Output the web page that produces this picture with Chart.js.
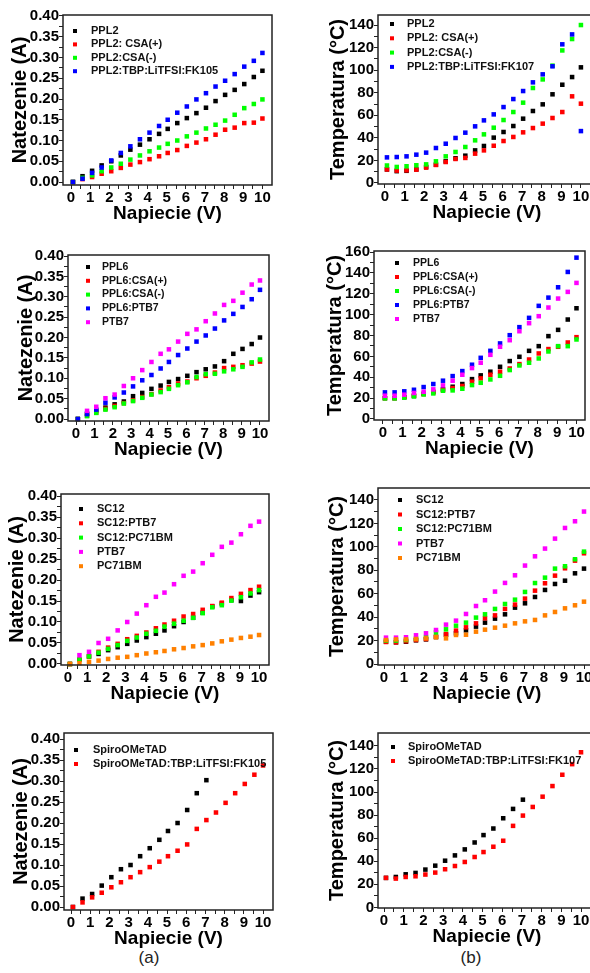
<!DOCTYPE html>
<html>
<head>
<meta charset="utf-8">
<script src="https://cdn.jsdelivr.net/npm/chart.js@4"></script>
<style>
  html, body { margin:0; padding:0; background:#fff; overflow:hidden; }
  body { width:590px; height:973px; position:relative; font-family:"Liberation Sans", Arial, sans-serif; }
  canvas { position:absolute; }
  .tag { position:absolute; font-size:17px; color:#222; transform:translate(-50%,-50%); }
</style>
</head>
<body>
<div class="tag" style="left:149px;top:958px">(a)</div>
<div class="tag" style="left:471px;top:958px">(b)</div>
<script>
// ------ Data ------
const volts = [0.1, 0.6, 1.1, 1.6, 2.1, 2.6, 3.1, 3.6, 4.1, 4.6, 5.05, 5.55, 6.05, 6.55, 7.05, 7.55, 8.05, 8.55, 9.05, 9.55, 10.0];

// tick labels
const xMajor = [0, 1, 2, 3, 4, 5, 6, 7, 8, 9, 10];
const ampTicks = [0, 0.05, 0.10, 0.15, 0.20, 0.25, 0.30, 0.35, 0.40];
const temp140Ticks = [0, 20, 40, 60, 80, 100, 120, 140];
const temp160Ticks = [0, 20, 40, 60, 80, 100, 120, 140, 160];

// (a) row 1 - current, PPL2
const ppl2      = [0, 0.014, 0.027, 0.040, 0.050, 0.064, 0.078, 0.090, 0.103, 0.116, 0.128, 0.142, 0.154, 0.166, 0.179, 0.195, 0.210, 0.222, 0.236, 0.253, 0.268];
const ppl2CsaP  = [0, 0.007, 0.012, 0.020, 0.026, 0.034, 0.042, 0.048, 0.055, 0.062, 0.070, 0.077, 0.087, 0.095, 0.103, 0.114, 0.126, 0.131, 0.142, 0.143, 0.153];
const ppl2CsaM  = [0, 0.010, 0.016, 0.026, 0.035, 0.044, 0.054, 0.064, 0.074, 0.083, 0.092, 0.100, 0.110, 0.119, 0.129, 0.138, 0.148, 0.162, 0.178, 0.188, 0.199];
const ppl2Tbp   = [0, 0.008, 0.022, 0.035, 0.052, 0.070, 0.086, 0.103, 0.119, 0.135, 0.150, 0.167, 0.182, 0.199, 0.214, 0.230, 0.244, 0.260, 0.278, 0.292, 0.311];

// (b) row 1 - temperature, PPL2
const tPpl2     = [12, 10.5, 10.8, 12, 14.2, 16.2, 19.2, 21.9, 24.2, 28.9, 32.8, 40.2, 45.2, 50.5, 57, 63.8, 69.7, 78.6, 87.1, 93.9, 102.5];
const tPpl2CsaP = [12, 11, 11.2, 11.8, 13.6, 16, 18.6, 21.3, 22.2, 26, 28.9, 33, 37.2, 40.8, 44.9, 48.7, 52.6, 57.6, 62.9, 76.8, 70.3];
const tPpl2CsaM = [15.5, 14.2, 14.8, 15.7, 16.5, 19.2, 23.6, 27.5, 31.9, 37.8, 43.1, 49, 55.8, 62.9, 71.2, 84.2, 91.8, 104, 117.5, 127.6, 140];
const tPpl2Tbp  = [22.7, 23, 23.6, 25.1, 26.9, 31, 34.8, 39.9, 44.6, 50.2, 55.5, 60.8, 67.3, 74.4, 81.5, 89.2, 96.3, 103.4, 122.9, 131.7, 46];

// (a) row 2 - current, PPL6
const ppl6      = [0, 0.013, 0.021, 0.028, 0.036, 0.043, 0.056, 0.064, 0.074, 0.082, 0.091, 0.098, 0.106, 0.115, 0.122, 0.129, 0.142, 0.160, 0.172, 0.184, 0.200];
const ppl6CsaP  = [0, 0.008, 0.016, 0.025, 0.032, 0.039, 0.046, 0.054, 0.061, 0.070, 0.078, 0.087, 0.092, 0.100, 0.106, 0.114, 0.125, 0.128, 0.132, 0.136, 0.141];
const ppl6CsaM  = [0, 0.007, 0.015, 0.023, 0.029, 0.038, 0.044, 0.052, 0.060, 0.066, 0.074, 0.083, 0.090, 0.103, 0.110, 0.111, 0.117, 0.122, 0.128, 0.139, 0.146];
const ppl6Ptb7  = [0, 0.012, 0.023, 0.040, 0.053, 0.065, 0.080, 0.095, 0.108, 0.124, 0.140, 0.157, 0.173, 0.190, 0.205, 0.222, 0.242, 0.258, 0.275, 0.294, 0.317];
const ptb7A     = [null, 0.020, 0.030, 0.051, 0.060, 0.081, 0.100, 0.120, 0.140, 0.160, 0.171, 0.190, 0.209, 0.220, 0.240, 0.259, 0.280, 0.290, 0.310, 0.330, 0.340];

// (b) row 2 - temperature, PPL6
const tPpl6     = [20, 20, 21, 22, 24, 26, 28.5, 30.9, 33.5, 38.2, 41.8, 45.3, 50, 55.5, 59.6, 65.3, 69.8, 79.4, 85.4, 95.3, 106.1];
const tPpl6CsaP = [20, 20, 21, 22.5, 24, 25.5, 27.7, 29.6, 31.6, 35.7, 38.9, 42.4, 45.3, 48.4, 52.6, 57, 62.8, 67, 69.2, 73.3, 78.4];
const tPpl6CsaM = [19.8, 19.8, 20.4, 21.7, 23.6, 24.5, 27.1, 27.4, 29, 32.5, 34.7, 37.9, 41.4, 46.9, 51.3, 53.9, 58, 64.7, 69.8, 69.8, 76.2];
const tPpl6Ptb7 = [25.5, 25.5, 26.5, 28, 30.6, 33.5, 36.7, 41.1, 45.9, 52, 58.6, 65.3, 72.4, 80.3, 88, 96.9, 108.4, 116.3, 126.2, 140.9, 154.6];
const tPtb7B    = [22.3, 22.3, 23.3, 24.9, 26.1, 28.4, 32.2, 36.7, 42.4, 48.8, 53.9, 61.5, 69.2, 75.5, 84.1, 91.8, 98.5, 106.8, 115.4, 121.8, 130.4];

// (a) row 3 - current, SC12
const sc12      = [0, 0.010, 0.018, 0.024, 0.033, 0.040, 0.048, 0.056, 0.064, 0.072, 0.080, 0.090, 0.100, 0.110, 0.122, 0.137, 0.144, 0.152, 0.150, 0.163, 0.171];
const sc12Ptb7  = [0, 0.010, 0.018, 0.029, 0.039, 0.048, 0.059, 0.067, 0.075, 0.085, 0.094, 0.103, 0.113, 0.119, 0.129, 0.138, 0.146, 0.157, 0.167, 0.176, 0.184];
const sc12Pc71  = [0, 0.010, 0.018, 0.027, 0.036, 0.045, 0.055, 0.063, 0.072, 0.079, 0.089, 0.096, 0.103, 0.110, 0.121, 0.135, 0.140, 0.151, 0.159, 0.168, 0.176];
const ptb7C     = [null, 0.021, 0.029, 0.050, 0.060, 0.080, 0.100, 0.120, 0.140, 0.160, 0.170, 0.190, 0.210, 0.220, 0.240, 0.260, 0.279, 0.289, 0.309, 0.329, 0.339];
const pc71      = [0, 0.002, 0.005, 0.008, 0.012, 0.015, 0.017, 0.021, 0.025, 0.028, 0.031, 0.035, 0.038, 0.042, 0.045, 0.049, 0.054, 0.058, 0.062, 0.065, 0.069];

// (b) row 3 - temperature, SC12
const tSc12     = [19, 18.5, 19, 20.2, 21, 23, 25, 26.2, 28.7, 31.9, 35.3, 38.7, 42.4, 48.1, 51.8, 57.2, 63.2, 68.3, 71.1, 77.4, 81.4];
const tSc12Ptb7 = [18.8, 18.5, 19.4, 20.5, 21.3, 23.3, 25.6, 28.5, 31.3, 34.7, 39, 41.5, 47, 50.7, 55.8, 62.6, 68.9, 75.4, 81.7, 88.2, 94.5];
const tSc12Pc71 = [20, 20, 20.5, 21.5, 23, 27, 29.6, 32.7, 35.3, 39.6, 42.4, 47, 51.2, 54.9, 61.5, 69.1, 73.7, 81.4, 83.4, 89.4, 95.9];
const tPtb7C    = [22.5, 22.5, 22.8, 24.5, 26.2, 29, 33.6, 37, 42.7, 49.5, 54.4, 61.8, 69.2, 75.7, 84, 91.9, 98.5, 107, 116.1, 121.8, 130.1];
const tPc71     = [20.5, 21, 21, 21.3, 21.9, 22.8, 21.9, 24.8, 25, 27.6, 29.3, 31, 32.7, 34.7, 36.4, 37.6, 41.5, 44.4, 47.5, 50.1, 53.2];

// (a) row 4 - current, SpiroOMeTAD
const spiro     = [0, 0.020, 0.031, 0.051, 0.071, 0.090, 0.100, 0.121, 0.140, 0.160, 0.181, 0.200, 0.231, 0.271, 0.302, null, null, null, null, null, null];
const spiroTbp  = [0, 0.011, 0.023, 0.034, 0.047, 0.059, 0.071, 0.083, 0.095, 0.108, 0.121, 0.134, 0.149, 0.186, 0.207, 0.225, 0.248, 0.271, 0.293, 0.315, 0.337];

// (b) row 4 - temperature, SpiroOMeTAD
const tSpiro    = [25.6, 26.4, 28.7, 29.9, 32.8, 36.2, 40.5, 45.1, 50.3, 56.3, 62.7, 68.4, 77.3, 85.4, 93.4, null, null, null, null, null, null];
const tSpiroTbp = [25.6, 25, 26.4, 27, 28.5, 30.2, 33.1, 35.9, 39.4, 43.7, 48, 52.6, 57.8, 70.7, 79.6, 87.1, 96, 105.2, 115, 124.2, 134.5];

// ------ Look ------
const BLACK = '#000000', RED = '#ff0000', GREEN = '#00ff00', BLUE = '#0000ff', MAGENTA = '#ff00ff', ORANGE = '#ff8000';
const FONT = '"Liberation Sans", Arial, sans-serif';
Chart.defaults.font.family = FONT;
Chart.defaults.color = '#000';

function withMinor(major) {
  const out = major.slice();
  for (let i = 0; i < major.length - 1; i++) out.push((major[i] + major[i + 1]) / 2);
  return out.sort((a, b) => a - b);
}

// box round the plot area
const framePlugin = {
  id: 'frame',
  afterDatasetsDraw(chart) {
    const { ctx, chartArea: a } = chart;
    ctx.save();
    ctx.strokeStyle = '#222';
    ctx.lineWidth = 1.5;
    ctx.strokeRect(a.left, a.top, a.right - a.left, a.bottom - a.top);
    ctx.restore();
  }
};

// legend drawn inside the plot area, top-left
const inLegend = {
  id: 'inLegend',
  afterDraw(chart, args, opts) {
    const { ctx, chartArea: a } = chart;
    ctx.save();
    ctx.font = 'bold ' + (opts.size || 11) + 'px ' + FONT;
    ctx.textBaseline = 'middle';
    chart.data.datasets.forEach((ds, i) => {
      const y = a.top + opts.y + i * opts.gap;
      ctx.fillStyle = ds.backgroundColor;
      ctx.fillRect(a.left + opts.mx - 2, y - 2, 4, 4);
      ctx.fillStyle = '#111';
      ctx.fillText(ds.label, a.left + opts.tx, y);
    });
    ctx.restore();
  }
};

function panel(o) {
  const yW = 60, xH = 42, padT = 16, padR = 14;
  const [L, T, R, B] = o.frame;
  const w = yW + (R - L) + padR;
  const h = padT + (B - T) + xH;
  const c = document.createElement('canvas');
  c.width = w; c.height = h;
  c.style.left = (L - yW) + 'px';
  c.style.top = (T - padT) + 'px';
  c.style.width = w + 'px';
  c.style.height = h + 'px';
  document.body.appendChild(c);

  const n = o.series.length;
  const datasets = o.series.map((s, i) => ({
    label: s.label,
    data: volts.map((v, k) => ({ x: v, y: s.data[k] })).filter(p => p.y !== null),
    backgroundColor: s.color,
    borderColor: s.color,
    borderWidth: 0,
    pointStyle: 'rect',
    pointRadius: 3.2,
    showLine: false,
    clip: false,
    order: n - 1 - i
  }));

  const yMajor = o.yTicks;
  new Chart(c, {
    type: 'scatter',
    data: { datasets },
    plugins: [framePlugin, inLegend],
    options: {
      responsive: false,
      animation: false,
      events: [],
      layout: { autoPadding: false, padding: { left: 0, top: padT, right: padR, bottom: 0 } },
      plugins: {
        legend: { display: false },
        tooltip: { enabled: false },
        inLegend: o.legend
      },
      scales: {
        x: {
          type: 'linear', min: o.x[0], max: o.x[1],
          afterFit: s => { s.height = xH; },
          afterBuildTicks: s => { s.ticks = withMinor(xMajor).map(v => ({ value: v })); },
          ticks: {
            autoSkip: false, maxRotation: 0, padding: 0,
            font: { size: 15, weight: 'bold' }, color: '#000',
            callback: v => xMajor.includes(v) ? String(v) : ''
          },
          grid: { drawOnChartArea: false, drawTicks: true, tickLength: 4, tickColor: '#222' },
          border: { display: false },
          title: { display: true, text: 'Napiecie (V)', color: '#000',
                   font: { size: 19, weight: 'bold' }, padding: { top: 0, bottom: 1.5 } }
        },
        y: {
          type: 'linear', min: o.y[0], max: o.y[1],
          afterFit: s => { s.width = yW; },
          afterBuildTicks: s => { s.ticks = withMinor(yMajor).map(v => ({ value: v })); },
          ticks: {
            autoSkip: false, padding: 0,
            font: { size: 15, weight: 'bold' }, color: '#000',
            callback: v => yMajor.includes(v) ? o.fmt(v) : ''
          },
          grid: { drawOnChartArea: false, drawTicks: true, tickLength: 4, tickColor: '#222' },
          border: { display: false },
          title: { display: true, text: o.yTitle, color: '#000',
                   font: { size: 20, weight: 'bold' }, padding: { top: 48 - o.titleGap, bottom: 0 } }
        }
      }
    }
  });
}

const amp = v => v.toFixed(2);
const deg = v => String(v);

// ------ Panels ------
panel({
  frame: [63, 15, 272, 185], x: [-0.42, 10.5], y: [-0.0072, 0.4024],
  yTicks: ampTicks, fmt: amp, yTitle: 'Natezenie (A)', titleGap: 43,
  legend: { mx: 12, tx: 28, y: 16, gap: 13.4 },
  series: [
    { label: 'PPL2', data: ppl2, color: BLACK },
    { label: 'PPL2: CSA(+)', data: ppl2CsaP, color: RED },
    { label: 'PPL2:CSA(-)', data: ppl2CsaM, color: GREEN },
    { label: 'PPL2:TBP:LiTFSI:FK105', data: ppl2Tbp, color: BLUE }
  ]
});

panel({
  frame: [378, 15, 596, 184], x: [-0.357, 10.77], y: [-0.9, 148.9],
  yTicks: temp140Ticks, fmt: deg, yTitle: 'Temperatura (°C)', titleGap: 40,
  legend: { mx: 14, tx: 29, y: 9, gap: 14.3 },
  series: [
    { label: 'PPL2', data: tPpl2, color: BLACK },
    { label: 'PPL2: CSA(+)', data: tPpl2CsaP, color: RED },
    { label: 'PPL2:CSA(-)', data: tPpl2CsaM, color: GREEN },
    { label: 'PPL2:TBP:LiTFSI:FK107', data: tPpl2Tbp, color: BLUE }
  ]
});

panel({
  frame: [68, 255, 269, 421], x: [-0.435, 10.49], y: [-0.0049, 0.4025],
  yTicks: ampTicks, fmt: amp, yTitle: 'Natezenie (A)', titleGap: 42,
  legend: { mx: 20, tx: 34, y: 12, gap: 13.8, size: 10.5 },
  series: [
    { label: 'PPL6', data: ppl6, color: BLACK },
    { label: 'PPL6:CSA(+)', data: ppl6CsaP, color: RED },
    { label: 'PPL6:CSA(-)', data: ppl6CsaM, color: GREEN },
    { label: 'PPL6:PTB7', data: ppl6Ptb7, color: BLUE },
    { label: 'PTB7', data: ptb7A, color: MAGENTA }
  ]
});

panel({
  frame: [374, 251, 585, 420], x: [-0.465, 10.44], y: [-0.96, 160.96],
  yTicks: temp160Ticks, fmt: deg, yTitle: 'Temperatura (°C)', titleGap: 38.5,
  legend: { mx: 23, tx: 39, y: 12, gap: 14, size: 10.5 },
  series: [
    { label: 'PPL6', data: tPpl6, color: BLACK },
    { label: 'PPL6:CSA(+)', data: tPpl6CsaP, color: RED },
    { label: 'PPL6:CSA(-)', data: tPpl6CsaM, color: GREEN },
    { label: 'PPL6:PTB7', data: tPpl6Ptb7, color: BLUE },
    { label: 'PTB7', data: tPtb7B, color: MAGENTA }
  ]
});

panel({
  frame: [61, 494, 269, 665], x: [-0.366, 10.52], y: [-0.0024, 0.4048],
  yTicks: ampTicks, fmt: amp, yTitle: 'Natezenie (A)', titleGap: 43.5,
  legend: { mx: 20, tx: 36, y: 15, gap: 14.3 },
  series: [
    { label: 'SC12', data: sc12, color: BLACK },
    { label: 'SC12:PTB7', data: sc12Ptb7, color: RED },
    { label: 'SC12:PC71BM', data: sc12Pc71, color: GREEN },
    { label: 'PTB7', data: ptb7C, color: MAGENTA },
    { label: 'PC71BM', data: pc71, color: ORANGE }
  ]
});

panel({
  frame: [378, 488, 596, 665], x: [-0.3, 10.6], y: [-0.85, 150.2],
  yTicks: temp140Ticks, fmt: deg, yTitle: 'Temperatura (°C)', titleGap: 41,
  legend: { mx: 22, tx: 38, y: 12, gap: 14.5 },
  series: [
    { label: 'SC12', data: tSc12, color: BLACK },
    { label: 'SC12:PTB7', data: tSc12Ptb7, color: RED },
    { label: 'SC12:PC71BM', data: tSc12Pc71, color: GREEN },
    { label: 'PTB7', data: tPtb7C, color: MAGENTA },
    { label: 'PC71BM', data: tPc71, color: ORANGE }
  ]
});

panel({
  frame: [64, 733, 273, 910], x: [-0.365, 10.52], y: [-0.0071, 0.4143],
  yTicks: ampTicks, fmt: amp, yTitle: 'Natezenie (A)', titleGap: 43,
  legend: { mx: 12, tx: 29, y: 17, gap: 14 },
  series: [
    { label: 'SpiroOMeTAD', data: spiro, color: BLACK },
    { label: 'SpiroOMeTAD:TBP:LiTFSI:FK105', data: spiroTbp, color: RED }
  ]
});

panel({
  frame: [378, 733, 596, 908], x: [-0.305, 10.76], y: [-0.5, 151.2],
  yTicks: temp140Ticks, fmt: deg, yTitle: 'Temperatura (°C)', titleGap: 40.5,
  legend: { mx: 15, tx: 30, y: 14, gap: 14 },
  series: [
    { label: 'SpiroOMeTAD', data: tSpiro, color: BLACK },
    { label: 'SpiroOMeTAD:TBP:LiTFSI:FK107', data: tSpiroTbp, color: RED }
  ]
});
</script>
</body>
</html>
